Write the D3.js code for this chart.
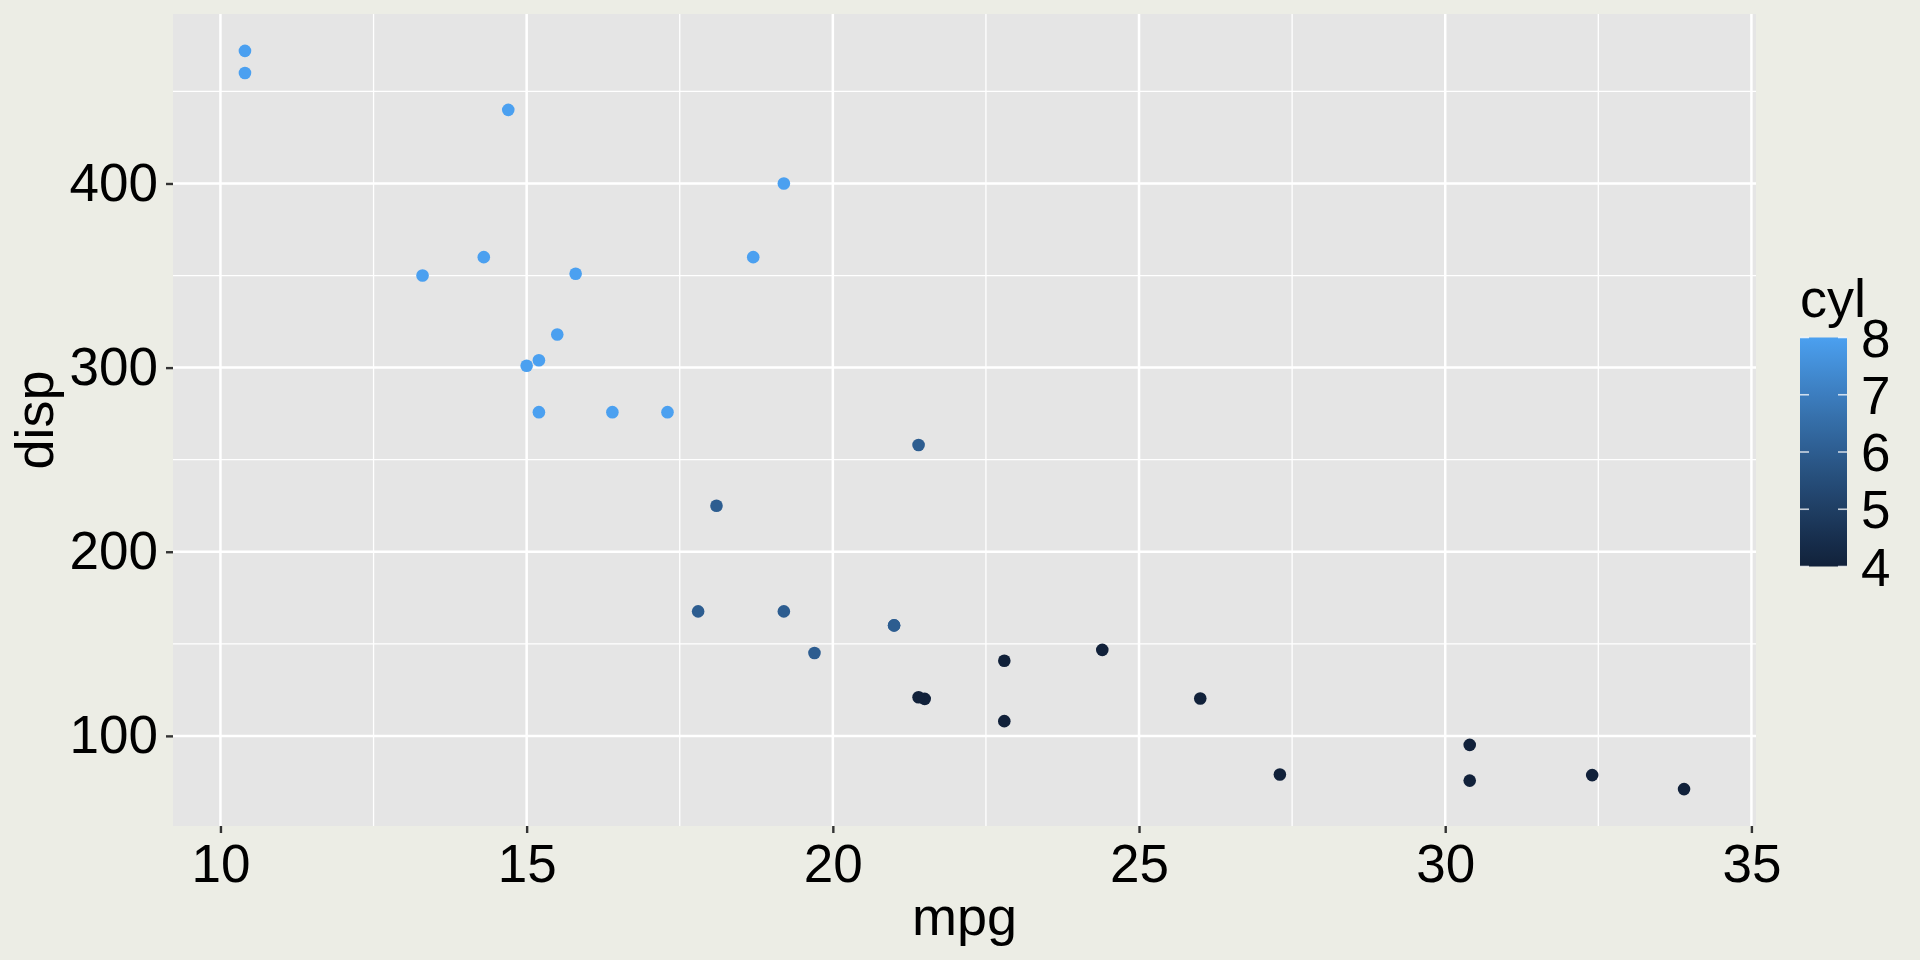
<!DOCTYPE html>
<html lang="en">
<head>
<meta charset="utf-8">
<title>mpg vs disp</title>
<script src="https://d3js.org/d3.v7.min.js"></script>
<style>
  body { margin: 0; background: #ECEDE5; }
  text { font-family: "Liberation Sans", Arial, sans-serif; fill: #000; }
</style>
</head>
<body>
<div id="my_dataviz"></div>
<script>
// mtcars: mpg, disp, cyl
var mpg  = [21.0, 21.0, 22.8, 21.4, 18.7, 18.1, 14.3, 24.4, 22.8, 19.2, 17.8,
            16.4, 17.3, 15.2, 10.4, 10.4, 14.7, 32.4, 30.4, 33.9, 21.5, 15.5,
            15.2, 13.3, 19.2, 27.3, 26.0, 30.4, 15.8, 19.7, 15.0, 21.4];
var disp = [160, 160, 108, 258, 360, 225, 360, 146.7, 140.8, 167.6, 167.6,
            275.8, 275.8, 275.8, 472, 460, 440, 78.7, 75.7, 71.1, 120.1, 318,
            304, 350, 400, 79, 120.3, 95.1, 351, 145, 301, 121];
var cyl  = [6, 6, 4, 6, 8, 6, 8, 4, 4, 6, 6, 8, 8, 8, 8, 8, 8, 4, 4, 4, 4, 8,
            8, 8, 8, 4, 4, 4, 8, 6, 8, 4];

var xTicks = [10, 15, 20, 25, 30, 35];
var xMinor = [12.5, 17.5, 22.5, 27.5, 32.5];
var yTicks = [100, 200, 300, 400];
var yMinor = [150, 250, 350, 450];
var cylTicks = [4, 5, 6, 7, 8];

var W = 1920, H = 960;
var panel = {left: 173, right: 1756, top: 14, bottom: 826};

var svg = d3.select("#my_dataviz")
  .append("svg")
    .attr("width", W)
    .attr("height", H);

svg.append("rect")
  .attr("width", W).attr("height", H)
  .attr("fill", "#ECEDE5");

// scales with ggplot's 5% expansion
var xr = d3.extent(mpg), yr = d3.extent(disp);
var xpad = (xr[1] - xr[0]) * 0.05, ypad = (yr[1] - yr[0]) * 0.05;
var x = d3.scaleLinear()
  .domain([xr[0] - xpad, xr[1] + xpad])
  .range([panel.left, panel.right]);
var y = d3.scaleLinear()
  .domain([yr[0] - ypad, yr[1] + ypad])
  .range([panel.bottom, panel.top]);
var color = d3.scaleLinear()
  .domain([4, 8])
  .range(["#11213A", "#4BA0F0"])
  .interpolate(d3.interpolateLab);

// panel background
svg.append("rect")
  .attr("x", panel.left).attr("y", panel.top)
  .attr("width", panel.right - panel.left)
  .attr("height", panel.bottom - panel.top)
  .attr("fill", "#E5E5E5");

// grid lines
var grid = svg.append("g").attr("stroke", "#fff");
grid.selectAll(".xminor").data(xMinor).enter().append("line")
  .attr("x1", function(d) { return x(d); }).attr("x2", function(d) { return x(d); })
  .attr("y1", panel.top).attr("y2", panel.bottom)
  .attr("stroke-width", 1.3);
grid.selectAll(".yminor").data(yMinor).enter().append("line")
  .attr("y1", function(d) { return y(d); }).attr("y2", function(d) { return y(d); })
  .attr("x1", panel.left).attr("x2", panel.right)
  .attr("stroke-width", 1.3);
grid.selectAll(".xmajor").data(xTicks).enter().append("line")
  .attr("x1", function(d) { return x(d); }).attr("x2", function(d) { return x(d); })
  .attr("y1", panel.top).attr("y2", panel.bottom)
  .attr("stroke-width", 2.5);
grid.selectAll(".ymajor").data(yTicks).enter().append("line")
  .attr("y1", function(d) { return y(d); }).attr("y2", function(d) { return y(d); })
  .attr("x1", panel.left).attr("x2", panel.right)
  .attr("stroke-width", 2.5);

// axes
var xAxis = svg.append("g")
  .attr("transform", "translate(0," + panel.bottom + ")")
  .call(d3.axisBottom(x).tickValues(xTicks).tickSize(7).tickPadding(8));
var yAxis = svg.append("g")
  .attr("transform", "translate(" + panel.left + ",0)")
  .call(d3.axisLeft(y).tickValues(yTicks).tickSize(7).tickPadding(8));
[xAxis, yAxis].forEach(function(a) {
  a.select(".domain").remove();
  a.selectAll(".tick line").attr("stroke", "#333").attr("stroke-width", 2.4);
  a.selectAll(".tick text")
    .attr("fill", "#000")
    .style("font-size", "53px")
    .style("font-family", "'Liberation Sans', Arial, sans-serif");
});
xAxis.selectAll(".tick text").attr("dy", "0.78em");

// axis titles
svg.append("text")
  .attr("x", (panel.left + panel.right) / 2)
  .attr("y", 935)
  .attr("text-anchor", "middle")
  .style("font-size", "54px")
  .text("mpg");
svg.append("text")
  .attr("transform", "translate(53," + (panel.top + panel.bottom) / 2 + ") rotate(-90)")
  .attr("text-anchor", "middle")
  .style("font-size", "54px")
  .text("disp");

// points
svg.selectAll("circle.pt")
  .data(mpg)
  .enter()
  .append("circle")
    .attr("class", "pt")
    .attr("cx", function(d) { return x(d); })
    .attr("cy", function(d, i) { return y(disp[i]); })
    .attr("r", 6.3)
    .attr("fill", function(d, i) { return color(cyl[i]); });

// colour bar legend
var bar = {x: 1800, w: 47, top: 337.5, bottom: 566.5};
var cy = d3.scaleLinear().domain([4, 8]).range([bar.bottom, bar.top]);

var grad = svg.append("defs").append("linearGradient")
  .attr("id", "cylgrad")
  .attr("x1", "0").attr("y1", "1").attr("x2", "0").attr("y2", "0");
grad.selectAll("stop")
  .data(d3.range(0, 21))
  .enter().append("stop")
    .attr("offset", function(d) { return d / 20; })
    .attr("stop-color", function(d) { return color(4 + d / 5); });

svg.append("rect")
  .attr("x", bar.x).attr("y", bar.top)
  .attr("width", bar.w).attr("height", bar.bottom - bar.top)
  .attr("fill", "url(#cylgrad)");

var lt = svg.append("g").attr("stroke", "#fff").attr("stroke-width", 1.6).attr("opacity", 0.75);
lt.selectAll(".tl").data(cylTicks).enter().append("line")
  .attr("x1", bar.x).attr("x2", bar.x + 9)
  .attr("y1", function(d) { return cy(d); }).attr("y2", function(d) { return cy(d); });
lt.selectAll(".tr").data(cylTicks).enter().append("line")
  .attr("x1", bar.x + bar.w - 9).attr("x2", bar.x + bar.w)
  .attr("y1", function(d) { return cy(d); }).attr("y2", function(d) { return cy(d); });

svg.selectAll(".cyllab")
  .data(cylTicks)
  .enter().append("text")
    .attr("x", 1861)
    .attr("y", function(d) { return cy(d); })
    .attr("dy", "0.36em")
    .style("font-size", "53px")
    .text(function(d) { return d; });

svg.append("text")
  .attr("x", 1800)
  .attr("y", 317)
  .style("font-size", "54px")
  .text("cyl");
</script>
</body>
</html>
